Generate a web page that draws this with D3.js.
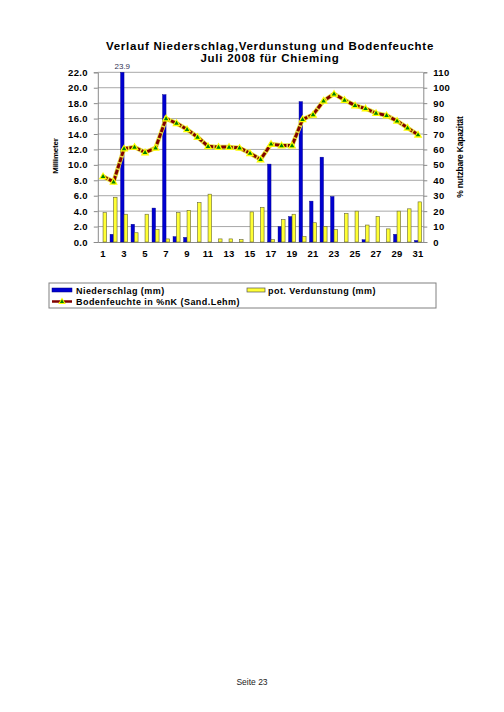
<!DOCTYPE html>
<html><head><meta charset="utf-8">
<script src="https://cdn.jsdelivr.net/npm/d3@7"></script>
<style>body{margin:0;background:#fff}svg{display:block}text{font-family:"Liberation Sans",Arial,sans-serif}</style>
</head><body>
<script>
const days = d3.range(1, 32);
const niederschlag = [0,1.0,23.9,2.3,0,4.4,19.1,0.7,0.6,0,0,0,0,0,0,0,10.1,2.0,3.3,18.2,5.3,11.0,5.9,0,0,0.3,0,0,1.0,0,0.2];
const verdunstung = [3.8,5.8,3.6,1.2,3.6,1.6,0.4,3.8,4.1,5.1,6.2,0.4,0.4,0.3,3.9,4.5,0.3,2.9,3.6,0.7,2.5,2.0,1.6,3.7,4.0,2.2,3.3,1.7,4.0,4.3,5.2];
const bodenfeuchte = [42.5,39,60.5,61.5,58,61,80,77,73,68,62,61.5,61.5,61,57.5,53.5,63.5,62.5,62.5,79.5,82.5,91.5,96,92,88.5,86.5,83.5,82,78.5,74,69.5];
const leftTicks = d3.range(0, 22.01, 2);
const rightTicks = d3.range(0, 110.01, 10);
const xLabels = [1,3,5,7,9,11,13,15,17,19,21,23,25,27,29,31];

const W = 504, H = 712;
const svg = d3.select("body").append("svg").attr("width", W).attr("height", H);
const L = 97.8, R = 423.3, T = 72.3, B = 242;

const x = d3.scaleBand().domain(days).range([L, R]).paddingInner(0.33).paddingOuter(0.165);
const xs = d3.scaleBand().domain(["n","v"]).range([0, x.bandwidth()]);
const y = d3.scaleLinear().domain([0, 22]).range([B, T]);
const y2 = d3.scaleLinear().domain([0, 110]).range([B, T]);

// grid
svg.append("g").selectAll("line").data(leftTicks.slice(1)).join("line")
  .attr("x1", L).attr("x2", R).attr("y1", d => y(d)).attr("y2", d => y(d))
  .attr("stroke", "#a8a8a8").attr("stroke-width", 1);

// axes
const gl = svg.append("g").attr("transform", `translate(${L},0)`)
  .call(d3.axisLeft(y).tickValues(leftTicks).tickFormat(d3.format(".1f")).tickSize(4).tickPadding(6));
const gr = svg.append("g").attr("transform", `translate(${R},0)`)
  .call(d3.axisRight(y2).tickValues(rightTicks).tickFormat(d3.format("d")).tickSize(4).tickPadding(6));
const gb = svg.append("g").attr("transform", `translate(0,${B})`)
  .call(d3.axisBottom(x).tickValues(xLabels).tickSize(0).tickPadding(8));
[gl, gr, gb].forEach(g => {
  g.selectAll("path, line").attr("stroke", "#8a8a8a");
  g.selectAll("text").attr("font-size", 9.5).attr("font-weight", "bold").attr("fill", "#000")
   .attr("letter-spacing", 0.3)
   .style("font-family", '"Liberation Sans", Arial, sans-serif');
});

// bars
const clipMax = 22;
svg.append("g").selectAll("rect").data(days).join("rect")
  .attr("x", d => x(d) + xs("n"))
  .attr("width", xs.bandwidth())
  .attr("y", (d, i) => y(Math.min(niederschlag[i], clipMax)))
  .attr("height", (d, i) => B - y(Math.min(niederschlag[i], clipMax)))
  .attr("fill", "#0000d0").attr("stroke", "#000080").attr("stroke-width", 0.4);
svg.append("g").selectAll("rect").data(days).join("rect")
  .attr("x", d => x(d) + xs("v"))
  .attr("width", xs.bandwidth())
  .attr("y", (d, i) => y(verdunstung[i]))
  .attr("height", (d, i) => B - y(verdunstung[i]))
  .attr("fill", "#ffff33").attr("stroke", "#666633").attr("stroke-width", 0.6);

// clipped value label
days.forEach((d, i) => {
  if (niederschlag[i] > clipMax) {
    svg.append("text").attr("x", x(d) + xs("n") + xs.bandwidth() / 2).attr("y", T - 3)
      .attr("text-anchor", "middle").attr("font-size", 8).attr("fill", "#333355").text(niederschlag[i].toFixed(1));
  }
});

// line
const cx = d => x(d) + x.bandwidth() / 2;
const line = d3.line().x((d, i) => cx(days[i])).y(d => y2(d));
svg.append("path").datum(bodenfeuchte).attr("d", line).attr("fill", "none")
  .attr("stroke", "#e8e040").attr("stroke-width", 4.5);
svg.append("path").datum(bodenfeuchte).attr("d", line).attr("fill", "none")
  .attr("stroke", "#800000").attr("stroke-width", 3).attr("stroke-dasharray", "5,1.5");
const tri = s => `M0,${-s}L${s*0.95},${s*0.65}L${-s*0.95},${s*0.65}Z`;
const mk = svg.append("g").selectAll("g").data(bodenfeuchte).join("g")
  .attr("transform", (d, i) => `translate(${cx(days[i])},${y2(d)})`);
mk.append("path").attr("d", tri(4.5)).attr("fill", "#ffff00");
mk.append("path").attr("d", tri(2.4)).attr("fill", "#008000");

// titles
svg.append("text").attr("x", 270).attr("y", 50).attr("text-anchor", "middle")
  .attr("font-size", 11.5).attr("font-weight", "bold").attr("letter-spacing", 0.75)
  .text("Verlauf Niederschlag,Verdunstung und Bodenfeuchte");
svg.append("text").attr("x", 270).attr("y", 62).attr("text-anchor", "middle")
  .attr("font-size", 11.5).attr("font-weight", "bold").attr("letter-spacing", 0.75)
  .text("Juli 2008 für Chieming");
svg.append("text").attr("transform", "translate(58,156) rotate(-90)").attr("text-anchor", "middle")
  .attr("font-size", 8).attr("font-weight", "bold").attr("letter-spacing", -0.2).text("Millimeter");
svg.append("text").attr("transform", "translate(463,157) rotate(-90)").attr("text-anchor", "middle")
  .attr("font-size", 8.5).attr("font-weight", "bold").attr("letter-spacing", -0.2).text("% nutzbare Kapazität");

// legend
const lg = svg.append("g");
lg.append("rect").attr("x", 49).attr("y", 283).attr("width", 387).attr("height", 25)
  .attr("fill", "#fff").attr("stroke", "#808080").attr("stroke-width", 1);
lg.append("rect").attr("x", 52).attr("y", 288).attr("width", 20).attr("height", 4)
  .attr("fill", "#0000d0").attr("stroke", "#000080").attr("stroke-width", 0.5);
lg.append("text").attr("x", 76).attr("y", 293.5).attr("font-size", 9).attr("font-weight", "bold")
  .attr("letter-spacing", 0.45).text("Niederschlag (mm)");
lg.append("rect").attr("x", 247).attr("y", 288).attr("width", 18).attr("height", 4)
  .attr("fill", "#ffff33").attr("stroke", "#555").attr("stroke-width", 0.7);
lg.append("text").attr("x", 268).attr("y", 293.5).attr("font-size", 9).attr("font-weight", "bold")
  .attr("letter-spacing", 0.45).text("pot. Verdunstung (mm)");
lg.append("line").attr("x1", 52).attr("x2", 72).attr("y1", 301.5).attr("y2", 301.5)
  .attr("stroke", "#800000").attr("stroke-width", 2.5);
const lm = lg.append("g").attr("transform", "translate(62,301.5)");
lm.append("path").attr("d", tri(4)).attr("fill", "#ffff00");
lm.append("path").attr("d", tri(2.2)).attr("fill", "#008000");
lg.append("text").attr("x", 76).attr("y", 305).attr("font-size", 9).attr("font-weight", "bold")
  .attr("letter-spacing", 0.45).text("Bodenfeuchte in %nK (Sand.Lehm)");

// footer
svg.append("text").attr("x", 252).attr("y", 685).attr("text-anchor", "middle")
  .attr("font-size", 8.5).attr("fill", "#222").text("Seite 23");
</script>
</body></html>
